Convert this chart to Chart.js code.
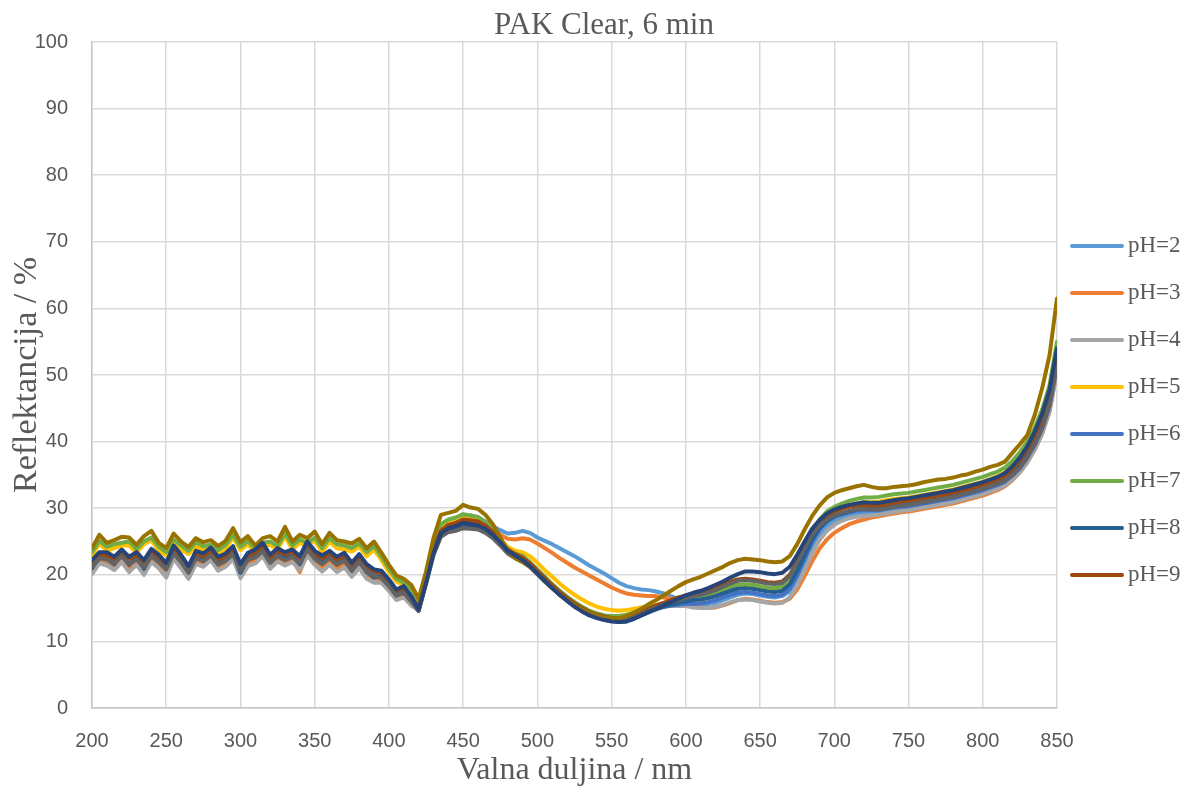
<!DOCTYPE html>
<html>
<head>
<meta charset="utf-8">
<script src="https://cdn.jsdelivr.net/npm/chart.js@4.4.1/dist/chart.umd.min.js"></script>
<style>
  html, body { margin: 0; padding: 0; background: #ffffff; }
  #wrap { width: 1187px; height: 790px; position: relative; }
</style>
</head>
<body>
<div id="wrap"><canvas id="c"></canvas></div>
<script>
// ---------- DATA ----------
const wavelengths = [
  200,205,210,215,220,225,230,235,240,245,250,255,260,265,270,275,280,285,290,295,
  300,305,310,315,320,325,330,335,340,345,350,355,360,365,370,375,380,385,390,395,
  400,405,410,415,420,425,430,435,440,445,450,455,460,465,470,475,480,485,490,495,
  500,505,510,515,520,525,530,535,540,545,550,555,560,565,570,575,580,585,590,595,
  600,605,610,615,620,625,630,635,640,645,650,655,660,665,670,675,680,685,690,695,
  700,705,710,715,720,725,730,735,740,745,750,755,760,765,770,775,780,785,790,795,
  800,805,810,815,820,825,830,835,840,845,850
];

const ph2 = [
  20.4,22.2,22.0,21.2,22.6,21.1,22.0,20.5,22.6,21.7, 20.2,23.0,21.7,19.8,22.2,21.8,22.8,21.2,21.8,22.9,
  19.7,21.9,22.4,23.4,21.5,22.6,22.0,22.4,21.3,23.5, 22.1,20.8,22.2,21.2,21.9,20.3,21.7,20.2,19.4,19.4,
  18.1,16.7,17.0,15.8,14.6,
  19.2,23.8,26.9,27.8,28.2,28.8,28.9,28.6,28.0,27.3, 26.7,26.2,26.3,26.6,26.3,25.6,25.1,24.6,24.0,23.4,
  22.8,22.1,21.4,20.8,20.2,19.5,18.8,18.3,18.0,17.8, 17.7,17.5,17.2,16.8,16.3,15.9,15.6,15.5,15.6,15.8,
  16.2,16.6,17.0,17.2,17.1,16.9,16.7,16.6,16.8,17.5, 19.2,21.5,24.0,26.0,27.3,28.1,28.6,28.9,29.1,29.2,
  29.3,29.4,29.6,29.8,29.9,30.0,30.2,30.4,30.6,30.8, 31.0,31.2,31.5,31.8,32.1,32.4,32.8,33.2,33.7,34.5,
  35.6,37.1,39.0,41.4,44.8,51.0
];
const ph3 = [
  20.7,22.0,22.2,21.4,22.4,20.6,22.1,20.9,22.4,21.3, 20.5,22.8,21.4,20.2,22.0,21.9,22.6,20.9,21.7,22.8,
  20.2,21.6,22.3,23.2,21.7,22.4,21.9,22.3,20.4,23.3, 22.0,21.2,22.1,20.8,21.7,20.6,21.5,19.7,19.6,19.2,
  17.9,16.6,16.9,15.6,14.7,
  19.0,23.5,26.5,27.3,27.7,28.2,28.2,28.0,27.5,26.8, 26.0,25.4,25.3,25.5,25.3,24.7,24.0,23.3,22.5,21.8,
  21.1,20.5,19.9,19.3,18.7,18.1,17.6,17.2,17.0,16.9, 16.8,16.8,16.6,16.4,16.1,15.8,15.4,15.1,15.0,15.1,
  15.4,15.8,16.2,16.4,16.3,16.1,15.9,15.8,15.9,16.4, 17.8,19.8,22.0,23.9,25.3,26.3,27.0,27.6,28.0,28.3,
  28.6,28.8,29.0,29.2,29.4,29.5,29.7,29.9,30.1,30.3, 30.5,30.7,31.0,31.3,31.6,31.9,32.3,32.7,33.3,34.2,
  35.4,36.9,38.8,41.2,44.6,50.8
];
const ph4 = [
  20.1,21.7,21.4,20.7,21.9,20.4,21.5,20.0,21.9,21.0, 19.6,22.4,21.0,19.4,21.6,21.2,22.2,20.6,21.2,22.4,
  19.5,21.3,21.7,22.8,20.9,22.0,21.4,21.9,20.7,22.9, 21.5,20.5,21.5,20.4,21.1,19.7,21.0,19.4,18.8,18.8,
  17.6,16.2,16.6,15.4,14.7,
  18.6,22.9,25.9,26.7,27.0,27.5,27.4,27.3,26.8,25.9, 24.8,23.6,22.9,22.5,21.7,20.7,19.6,18.6,17.6,16.7,
  15.9,15.2,14.6,14.2,13.9,13.7,13.6,13.7,14.0,14.4, 14.7,15.0,15.2,15.3,15.3,15.3,15.1,15.0,15.0,15.2,
  15.5,15.9,16.2,16.3,16.2,16.0,15.8,15.7,15.8,16.6, 18.4,20.7,23.2,25.2,26.6,27.5,28.1,28.5,28.7,28.8,
  28.9,29.0,29.2,29.4,29.6,29.7,29.9,30.1,30.3,30.5, 30.7,30.9,31.2,31.5,31.8,32.1,32.5,32.9,33.4,34.3,
  35.4,36.9,38.8,41.2,44.5,50.5
];
const ph5 = [
  22.9,24.7,23.6,24.0,24.4,24.4,23.3,24.6,25.2,23.6, 22.9,24.9,23.8,23.1,24.3,23.7,24.0,23.1,23.9,25.6,
  23.7,24.6,23.2,24.3,24.5,23.8,25.8,23.8,24.8,24.3, 25.2,23.4,25.0,24.0,23.8,23.5,24.2,22.8,23.8,22.2,
  20.4,19.0,18.4,17.5,15.5,
  19.5,24.0,27.0,27.8,28.1,28.5,28.5,28.4,27.8,26.8, 25.4,24.2,23.6,23.4,22.8,21.8,20.7,19.7,18.7,17.8,
  17.0,16.3,15.7,15.2,14.9,14.7,14.6,14.7,14.9,15.1, 15.3,15.5,15.6,15.7,15.8,15.9,16.0,16.2,16.5,16.9,
  17.3,17.7,18.0,18.1,18.0,17.8,17.6,17.5,17.8,19.0, 21.3,23.8,26.1,27.8,29.0,29.7,30.1,30.5,30.7,30.9,
  30.9,31.0,31.2,31.4,31.5,31.6,31.8,32.0,32.2,32.4, 32.6,32.8,33.1,33.4,33.7,34.0,34.4,34.8,35.4,36.4,
  37.7,39.3,41.3,44.0,47.5,53.5
];
const ph6 = [
  21.2,22.4,22.6,21.8,22.9,21.7,22.4,21.2,22.9,22.0, 20.9,23.4,22.1,20.5,22.6,22.2,23.1,21.8,22.2,23.3,
  20.7,22.4,22.8,23.8,22.1,23.0,22.5,22.8,21.9,23.9, 22.6,21.9,22.6,21.8,22.3,20.9,22.1,20.7,20.0,19.7,
  18.5,17.1,17.4,16.1,14.6,
  18.9,23.3,26.2,27.0,27.3,27.8,27.7,27.5,26.9,26.0, 24.8,23.5,22.8,22.3,21.4,20.3,19.2,18.2,17.2,16.3,
  15.5,14.8,14.3,13.9,13.6,13.4,13.3,13.4,13.8,14.2, 14.6,14.9,15.2,15.4,15.5,15.6,15.6,15.7,15.9,16.2,
  16.6,17.0,17.3,17.4,17.3,17.1,16.9,16.8,17.0,17.9, 19.9,22.4,24.9,26.8,28.0,28.7,29.1,29.4,29.6,29.7,
  29.7,29.7,29.9,30.1,30.2,30.3,30.5,30.7,30.9,31.1, 31.3,31.5,31.8,32.1,32.4,32.7,33.1,33.5,34.0,34.9,
  36.0,37.6,39.5,42.0,45.4,51.5
];
const ph7 = [
  23.4,25.1,24.2,24.6,24.8,25.0,23.8,25.0,25.6,24.2, 23.4,25.3,24.4,23.6,24.9,24.3,24.5,23.7,24.5,26.0,
  24.2,25.1,23.8,24.8,25.0,24.3,26.2,24.4,25.3,24.8, 25.6,24.0,25.5,24.6,24.4,24.0,24.7,23.4,24.3,22.7,
  20.9,19.4,18.8,17.9,15.9,
  19.8,24.5,27.6,28.3,28.6,29.1,28.9,28.7,27.9,26.7, 25.2,23.8,23.2,22.8,21.9,20.8,19.7,18.6,17.6,16.7,
  15.9,15.2,14.6,14.2,13.9,13.8,13.8,14.0,14.3,14.7, 15.1,15.4,15.7,15.9,16.1,16.3,16.5,16.7,17.0,17.4,
  17.8,18.2,18.5,18.6,18.5,18.3,18.1,18.0,18.3,19.5, 21.8,24.3,26.6,28.3,29.5,30.2,30.7,31.1,31.4,31.6,
  31.6,31.7,31.9,32.1,32.2,32.3,32.5,32.7,32.9,33.1, 33.3,33.5,33.8,34.1,34.4,34.7,35.1,35.5,36.1,37.1,
  38.4,40.0,42.1,44.8,48.5,55.0
];
const ph8 = [
  21.0,22.8,22.5,21.6,23.1,21.5,22.7,20.9,23.1,22.2, 21.0,23.6,22.0,20.6,22.8,22.3,23.3,21.7,22.3,23.5,
  20.3,22.5,22.9,23.9,22.0,23.2,22.5,23.0,21.6,24.1, 22.8,21.8,22.8,21.6,22.4,20.6,22.3,20.4,19.6,19.8,
  18.5,16.9,17.5,16.2,14.6,
  19.0,23.4,26.0,26.7,26.9,27.4,27.2,27.1,26.6,25.7, 24.6,23.3,22.6,22.1,21.2,20.1,19.0,18.0,17.0,16.1,
  15.3,14.6,14.0,13.6,13.3,13.1,12.9,13.0,13.4,13.9, 14.4,14.8,15.2,15.5,15.8,16.0,16.2,16.3,16.5,16.8,
  17.2,17.6,17.9,18.0,17.9,17.7,17.5,17.4,17.6,18.6, 20.6,23.0,25.3,27.0,28.1,28.8,29.2,29.5,29.8,30.0,
  29.9,29.9,30.1,30.3,30.5,30.6,30.8,31.0,31.2,31.4, 31.6,31.8,32.1,32.4,32.7,33.0,33.4,33.8,34.4,35.3,
  36.5,38.2,40.2,42.7,46.0,52.0
];
const ph9 = [
  21.9,23.1,22.9,22.3,23.4,22.4,23.0,21.9,23.5,22.6, 21.5,24.0,22.6,21.0,23.2,22.8,23.6,22.3,22.8,23.9,
  21.3,22.9,23.4,24.3,22.6,23.6,23.1,23.4,22.5,24.5, 23.2,22.5,23.2,22.3,22.9,21.5,22.7,21.3,20.5,20.3,
  19.0,17.6,18.0,16.6,15.1,
  19.3,23.8,26.6,27.5,27.8,28.3,28.2,28.0,27.4,26.4, 25.1,23.8,23.1,22.6,21.7,20.6,19.5,18.4,17.4,16.5,
  15.7,15.0,14.4,14.0,13.7,13.5,13.4,13.5,13.9,14.4, 14.9,15.4,15.8,16.2,16.6,16.9,17.2,17.4,17.7,18.1,
  18.5,19.0,19.3,19.4,19.3,19.1,18.9,18.8,19.0,20.0, 22.0,24.3,26.4,27.9,28.9,29.5,29.9,30.2,30.4,30.5,
  30.4,30.4,30.6,30.8,31.0,31.1,31.3,31.5,31.7,31.9, 32.1,32.3,32.6,32.9,33.2,33.5,33.9,34.3,34.9,35.9,
  37.2,38.9,41.0,43.7,47.2,53.5
];
const ph10 = [
  21.2,22.5,22.3,21.7,22.8,21.6,22.3,21.1,22.8,21.9, 20.8,23.2,21.9,20.3,22.5,22.0,22.9,21.5,22.1,23.1,
  20.6,22.2,22.6,23.5,21.8,22.8,22.2,22.7,21.7,23.8, 22.4,21.6,22.5,21.5,22.1,20.7,21.9,20.5,19.8,19.5,
  18.3,16.9,17.3,16.0,14.6,
  18.7,23.0,25.7,26.4,26.6,27.0,26.9,26.8,26.3,25.5, 24.4,23.2,22.5,22.0,21.2,20.1,19.0,18.0,17.0,16.1,
  15.3,14.6,14.1,13.7,13.4,13.2,13.1,13.2,13.6,14.1, 14.6,15.1,15.5,15.9,16.2,16.5,16.8,17.0,17.3,17.7,
  18.2,18.7,19.1,19.2,19.1,18.9,18.7,18.6,18.8,19.8, 21.8,24.0,26.0,27.4,28.3,28.9,29.3,29.6,29.8,29.9,
  29.8,29.8,30.0,30.2,30.4,30.5,30.7,30.9,31.1,31.3, 31.5,31.7,32.0,32.3,32.6,32.9,33.3,33.7,34.2,35.0,
  36.1,37.7,39.6,42.0,45.5,51.5
];
const ph11 = [
  24.0,26.0,24.8,25.2,25.7,25.6,24.5,25.8,26.6,24.8, 24.0,26.2,25.0,24.2,25.5,24.9,25.2,24.3,25.1,27.0,
  24.9,25.8,24.4,25.5,25.8,25.0,27.2,25.0,26.0,25.5, 26.5,24.6,26.3,25.2,25.0,24.7,25.4,24.0,25.0,23.3,
  21.5,19.9,19.4,18.5,16.4,
  20.5,25.5,29.0,29.3,29.6,30.5,30.1,29.9,29.0,27.6, 25.6,23.6,22.5,21.9,21.2,20.2,19.1,18.0,17.0,16.2,
  15.4,14.8,14.3,13.9,13.6,13.5,13.5,13.8,14.3,14.9, 15.6,16.2,16.9,17.6,18.3,18.9,19.3,19.7,20.2,20.7,
  21.2,21.8,22.2,22.4,22.3,22.2,22.0,21.9,22.0,22.8, 24.6,26.8,28.8,30.4,31.6,32.3,32.7,33.0,33.3,33.5,
  33.2,33.0,33.0,33.2,33.3,33.4,33.6,33.9,34.1,34.3, 34.4,34.6,34.9,35.1,35.5,35.8,36.2,36.5,37.0,38.3,
  39.6,41.0,44.0,48.0,53.0,61.5
];
const ph12 = [
  22.2,23.4,23.4,22.7,23.8,22.7,23.4,22.2,23.9,23.0, 21.8,24.4,23.0,21.3,23.6,23.2,24.1,22.7,23.2,24.3,
  21.6,23.3,23.8,24.8,23.0,24.0,23.4,23.8,22.8,25.0, 23.6,22.9,23.6,22.7,23.3,21.8,23.1,21.6,20.8,20.6,
  19.3,17.8,18.3,16.8,14.8,
  18.8,23.2,26.2,27.0,27.3,27.8,27.6,27.4,26.9,26.0, 24.9,23.6,22.9,22.2,21.3,20.2,19.1,18.0,17.0,16.1,
  15.2,14.5,13.9,13.5,13.2,13.0,12.9,13.0,13.4,13.9, 14.4,14.9,15.4,15.9,16.4,16.9,17.3,17.6,18.0,18.5,
  19.0,19.6,20.1,20.5,20.5,20.4,20.2,20.1,20.3,21.2, 23.0,25.0,26.9,28.2,29.2,29.8,30.2,30.5,30.7,30.9,
  30.8,30.8,31.0,31.2,31.4,31.5,31.7,31.9,32.1,32.3, 32.5,32.7,33.0,33.3,33.6,33.9,34.3,34.7,35.3,36.3,
  37.6,39.3,41.5,44.2,47.8,54.0
];

const seriesNames  = ['pH=2','pH=3','pH=4','pH=5','pH=6','pH=7','pH=8','pH=9','pH=10','pH=11','pH=12'];
const seriesValues = [ph2, ph3, ph4, ph5, ph6, ph7, ph8, ph9, ph10, ph11, ph12];
const legendNames  = ['pH=2','pH=3','pH=4','pH=5','pH=6','pH=7','pH=8','pH=9'];
const xTickValues  = [200,250,300,350,400,450,500,550,600,650,700,750,800,850];
const yTickValues  = [0,10,20,30,40,50,60,70,80,90,100];

// ---------- STYLE ----------
const seriesColors = ['#5B9BD5','#ED7D31','#A5A5A5','#FFC000','#4472C4','#70AD47',
                      '#255E91','#9E480E','#636363','#997300','#264478'];
const TEXT = '#595959';
const SERIF = '"Liberation Serif","Times New Roman",serif';
const SANS = '"Liberation Sans",Arial,sans-serif';

const datasets = seriesValues.map((vals, i) => ({
  label: seriesNames[i],
  data: vals.map((v, k) => ({ x: wavelengths[k], y: v })),
  borderColor: seriesColors[i],
  backgroundColor: seriesColors[i],
  borderWidth: 4,
  pointRadius: 0,
  pointHoverRadius: 0,
  tension: 0,
  fill: false,
  borderJoinStyle: 'round',
  borderCapStyle: 'round',
  order: seriesValues.length - i
}));

const excelLegend = {
  id: 'excelLegend',
  afterDraw(chart) {
    const ctx = chart.ctx;
    const ca = chart.chartArea;
    ctx.save();
    ctx.font = '23px ' + SERIF;
    ctx.textBaseline = 'middle';
    ctx.textAlign = 'left';
    legendNames.forEach((name, i) => {
      const idx = seriesNames.indexOf(name);
      const y = ca.top + 204 + i * 47;
      ctx.strokeStyle = seriesColors[idx];
      ctx.lineWidth = 4;
      ctx.lineCap = 'round';
      ctx.beginPath();
      ctx.moveTo(ca.right + 15, y);
      ctx.lineTo(ca.right + 65, y);
      ctx.stroke();
      ctx.fillStyle = TEXT;
      ctx.fillText(name, ca.right + 71, y);
    });
    ctx.restore();
  }
};

new Chart(document.getElementById('c'), {
  type: 'line',
  data: { datasets },
  plugins: [excelLegend],
  options: {
    responsive: true,
    maintainAspectRatio: false,
    animation: false,
    devicePixelRatio: 1,
    layout: { padding: { left: 21, right: 0, top: 0, bottom: 0 } },
    plugins: {
      legend: { display: false },
      tooltip: { enabled: false },
      title: {
        display: true,
        text: 'PAK Clear, 6 min',
        color: TEXT,
        font: { family: SERIF, size: 31, weight: 'normal', lineHeight: 1 },
        padding: { top: 10, bottom: 1 }
      }
    },
    scales: {
      x: {
        type: 'linear',
        min: 200, max: 850,
        afterBuildTicks(s) { s.ticks = xTickValues.map(v => ({ value: v })); },
        afterFit(s) { s.height = 82; },
        grid: { color: '#d9d9d9', lineWidth: 1.5, drawTicks: false },
        border: { color: '#c6c6c6', width: 1.5 },
        ticks: { color: TEXT, font: { family: SANS, size: 20 }, padding: 21, maxRotation: 0, autoSkip: false },
        title: {
          display: true, text: 'Valna duljina / nm', color: TEXT,
          font: { family: SERIF, size: 32, lineHeight: 1 },
          padding: { top: 0, bottom: 3 }
        }
      },
      y: {
        type: 'linear',
        min: 0, max: 100,
        afterBuildTicks(s) { s.ticks = yTickValues.map(v => ({ value: v })); },
        afterFit(s) { s.width = 71; },
        grid: { color: '#d9d9d9', lineWidth: 1.5, drawTicks: false },
        border: { color: '#c6c6c6', width: 1.5 },
        ticks: { color: TEXT, font: { family: SANS, size: 20 }, padding: 24 },
        title: {
          display: true, text: 'Reflektancija / %', color: TEXT,
          font: { family: SERIF, size: 34, lineHeight: 1 },
          padding: { top: -11, bottom: 0 }
        }
      },
      legendSpace: {
        type: 'linear', position: 'right', display: true, min: 0, max: 1,
        afterFit(s) { s.width = 130; },
        grid: { display: false, drawTicks: false },
        border: { display: false },
        ticks: { display: false }
      }
    }
  }
});
</script>
</body>
</html>
